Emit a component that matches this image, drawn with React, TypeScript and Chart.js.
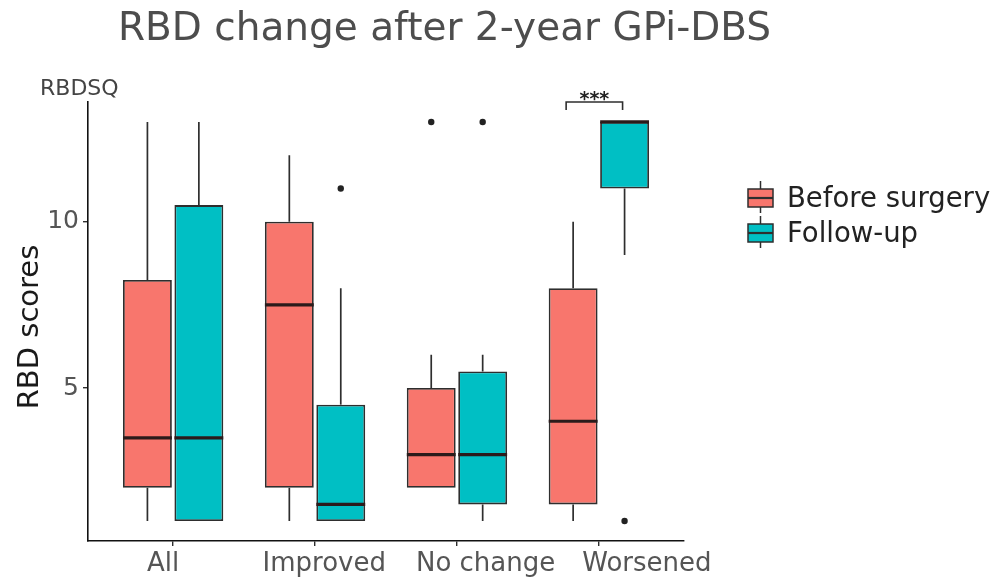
import React, { useEffect, useRef } from 'react';
import { Chart, registerables } from 'chart.js';

Chart.register(...registerables);

// ---------- data ----------
const CATEGORIES = ['All', 'Improved', 'No change', 'Worsened'];
const SERIES_LABELS = ['Before surgery', 'Follow-up'];
const SERIES_COLORS = ['#F8766D', '#00BFC4'];

const BEFORE_MIN = [1, 1, 2, 1];
const BEFORE_Q1 = [2, 2, 2, 1.5];
const BEFORE_MEDIAN = [3.5, 7.5, 3, 4];
const BEFORE_Q3 = [8.25, 10, 5, 8];
const BEFORE_MAX = [13, 12, 6, 10];
const BEFORE_OUTLIERS: number[][] = [[], [], [13], []];

const FOLLOW_MIN = [1, 1, 1, 9];
const FOLLOW_Q1 = [1, 1, 1.5, 11];
const FOLLOW_MEDIAN = [3.5, 1.5, 3, 13];
const FOLLOW_Q3 = [10.5, 4.5, 5.5, 13];
const FOLLOW_MAX = [13, 8, 6, 13];
const FOLLOW_OUTLIERS: number[][] = [[], [11], [13], [1]];

const Y_TICKS = [5, 10];
const Y_MIN = 0.4;
const Y_MAX = 13.6;
const X_MIN = 0.4;
const X_MAX = 4.6;
// the category labels sit on a slightly wider spacing than the tick marks in the reference
const X_LABEL_MIN = 0.535;
const X_LABEL_MAX = 4.23;

const SIG_CATEGORY = 'Worsened';
const SIG_LABEL = '***';
const SIG_TOP = 13.6;
const SIG_LEG = 13.36;

const TITLE = 'RBD change after 2-year GPi-DBS';
const Y_TITLE = 'RBD scores';
const Y_SUBTITLE = 'RBDSQ';

const STATS = [
  { min: BEFORE_MIN, q1: BEFORE_Q1, med: BEFORE_MEDIAN, q3: BEFORE_Q3, max: BEFORE_MAX, out: BEFORE_OUTLIERS },
  { min: FOLLOW_MIN, q1: FOLLOW_Q1, med: FOLLOW_MEDIAN, q3: FOLLOW_Q3, max: FOLLOW_MAX, out: FOLLOW_OUTLIERS },
];

const FONT = "'DejaVu Sans', sans-serif";
const LINE = '#2e2e2e';

export default function App() {
  const ref = useRef<HTMLCanvasElement>(null);

  useEffect(() => {
    if (!ref.current) return;

    const boxPlugin = {
      id: 'boxParts',
      afterDatasetsDraw(chart: any) {
        const ctx = chart.ctx;
        const y = chart.scales.y;
        ctx.save();
        STATS.forEach((s, di) => {
          const meta = chart.getDatasetMeta(di);
          meta.data.forEach((el: any, i: number) => {
            const { x, width } = el.getProps(['x', 'width'], true);
            ctx.strokeStyle = LINE;
            ctx.lineWidth = 1.7;
            ctx.beginPath();
            if (s.max[i] > s.q3[i]) {
              ctx.moveTo(x, y.getPixelForValue(s.q3[i]));
              ctx.lineTo(x, y.getPixelForValue(s.max[i]));
            }
            if (s.min[i] < s.q1[i]) {
              ctx.moveTo(x, y.getPixelForValue(s.q1[i]));
              ctx.lineTo(x, y.getPixelForValue(s.min[i]));
            }
            ctx.stroke();
            // median
            ctx.strokeStyle = '#2b1b1b';
            ctx.lineWidth = 3.2;
            ctx.beginPath();
            const my = y.getPixelForValue(s.med[i]);
            ctx.moveTo(x - width / 2, my);
            ctx.lineTo(x + width / 2, my);
            ctx.stroke();
            // outliers
            ctx.fillStyle = '#222';
            s.out[i].forEach((v) => {
              ctx.beginPath();
              ctx.arc(x, y.getPixelForValue(v), 3.2, 0, Math.PI * 2);
              ctx.fill();
            });
          });
        });
        ctx.restore();
      },
      afterDraw(chart: any) {
        const ctx = chart.ctx;
        const y = chart.scales.y;
        ctx.save();
        // title
        ctx.fillStyle = '#4d4d4d';
        ctx.font = `39px ${FONT}`;
        ctx.textAlign = 'left';
        ctx.textBaseline = 'alphabetic';
        ctx.fillText(TITLE, 118, 40);
        // RBDSQ
        ctx.fillStyle = '#444';
        ctx.font = `22px ${FONT}`;
        ctx.fillText(Y_SUBTITLE, 40, 95);
        // y axis title
        ctx.save();
        ctx.translate(38, 327);
        ctx.rotate(-Math.PI / 2);
        ctx.textAlign = 'center';
        ctx.fillStyle = '#1a1a1a';
        ctx.font = `29px ${FONT}`;
        ctx.fillText(Y_TITLE, 0, 0);
        ctx.restore();
        // significance bracket
        const ci = CATEGORIES.indexOf(SIG_CATEGORY);
        const e0 = chart.getDatasetMeta(0).data[ci];
        const e1 = chart.getDatasetMeta(1).data[ci];
        if (e0 && e1) {
          const x0 = e0.x - 7;
          const x1 = e1.x - 2;
          const yt = y.getPixelForValue(SIG_TOP);
          const yl = y.getPixelForValue(SIG_LEG);
          ctx.strokeStyle = LINE;
          ctx.lineWidth = 1.6;
          ctx.beginPath();
          ctx.moveTo(x0, yl);
          ctx.lineTo(x0, yt);
          ctx.lineTo(x1, yt);
          ctx.lineTo(x1, yl);
          ctx.stroke();
          ctx.fillStyle = '#222';
          ctx.font = `bold 19px ${FONT}`;
          ctx.textAlign = 'center';
          ctx.fillText(SIG_LABEL, (x0 + x1) / 2, yt + 3);
        }
        // legend
        SERIES_LABELS.forEach((lab, k) => {
          const base = 207 + k * 35;
          const bx = 748;
          const bw = 25;
          const top = base - 18;
          ctx.strokeStyle = LINE;
          ctx.lineWidth = 1.5;
          ctx.beginPath();
          ctx.moveTo(bx + bw / 2, top - 8);
          ctx.lineTo(bx + bw / 2, base + 6);
          ctx.stroke();
          ctx.fillStyle = SERIES_COLORS[k];
          ctx.fillRect(bx, top, bw, 18);
          ctx.strokeRect(bx, top, bw, 18);
          ctx.lineWidth = 2.2;
          ctx.beginPath();
          ctx.moveTo(bx, top + 9);
          ctx.lineTo(bx + bw, top + 9);
          ctx.stroke();
          ctx.fillStyle = '#222';
          ctx.font = `27.5px ${FONT}`;
          ctx.textAlign = 'left';
          ctx.fillText(lab, 787, base);
        });
        ctx.restore();
      },
    };

    const datasets = STATS.map((s, di) => ({
      label: SERIES_LABELS[di],
      data: CATEGORIES.map((_, i) => ({ x: i + 1, y: [s.q1[i], s.q3[i]] })),
      backgroundColor: SERIES_COLORS[di],
      borderColor: LINE,
      borderWidth: 1.8,
      borderSkipped: false,
      categoryPercentage: 0.725,
      barPercentage: 0.95,
    }));

    const chart = new Chart(ref.current, {
      type: 'bar',
      data: { datasets } as any,
      plugins: [boxPlugin],
      options: {
        animation: false,
        responsive: true,
        maintainAspectRatio: false,
        layout: { padding: { top: 102, right: 315, left: 0, bottom: 0 } },
        plugins: {
          legend: { display: false },
          tooltip: { enabled: false },
          title: { display: false },
        },
        scales: {
          x: {
            type: 'linear',
            position: 'bottom',
            weight: 0,
            min: X_MIN,
            max: X_MAX,
            offset: false,
            afterFit: (sc: any) => { sc.height = 5; },
            afterBuildTicks: (sc: any) => { sc.ticks = CATEGORIES.map((_, i) => ({ value: i + 1 })); },
            grid: { display: true, drawOnChartArea: false, drawTicks: true, tickLength: 5, tickColor: LINE, offset: false, lineWidth: 1.4 },
            border: { display: true, color: '#111', width: 1.6 },
            ticks: { display: false },
          },
          xLabels: {
            type: 'linear',
            position: 'bottom',
            weight: 1,
            min: X_LABEL_MIN,
            max: X_LABEL_MAX,
            offset: false,
            afterFit: (sc: any) => { sc.height = 39; },
            afterBuildTicks: (sc: any) => { sc.ticks = CATEGORIES.map((_, i) => ({ value: i + 1 })); },
            grid: { display: false, drawTicks: false },
            border: { display: false },
            ticks: {
              padding: 3,
              color: '#555',
              font: { family: FONT, size: 26 },
              autoSkip: false,
              maxRotation: 0,
              callback: (v: any) => CATEGORIES[Math.round(v) - 1] ?? '',
            },
          },
          y: {
            type: 'linear',
            min: Y_MIN,
            max: Y_MAX,
            afterFit: (sc: any) => { sc.width = 88; },
            afterBuildTicks: (sc: any) => { sc.ticks = Y_TICKS.map((v) => ({ value: v })); },
            grid: { display: true, drawOnChartArea: false, drawTicks: true, tickLength: 5, tickColor: LINE, lineWidth: 1.4 },
            border: { display: true, color: '#111', width: 1.6 },
            ticks: {
              padding: 4,
              color: '#555',
              font: { family: FONT, size: 25 },
            },
          },
        },
      } as any,
    });

    return () => chart.destroy();
  }, []);

  return (
    <div style={{ position: 'absolute', left: 0, top: 0, width: 999, height: 585, background: '#fff' }}>
      <canvas ref={ref} />
    </div>
  );
}
